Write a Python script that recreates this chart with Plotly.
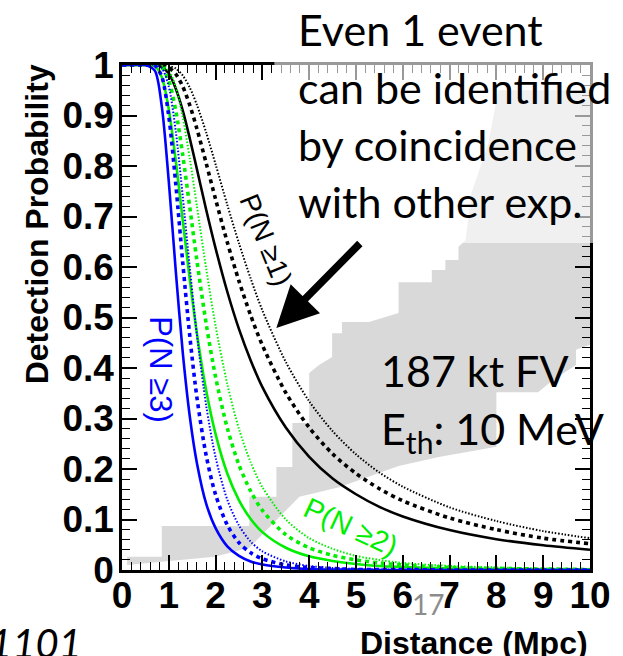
import plotly.graph_objects as go

# ---------------- data ----------------
distance_mpc = [0.0, 0.5, 0.7, 0.85, 1.0, 1.15, 1.3, 1.45, 1.6, 1.8, 2.0, 2.25, 2.5,
                2.75, 3.0, 3.5, 4.0, 4.5, 5.0, 5.5, 6.0, 7.0, 8.0, 9.0, 10.0]

# P(N >= 1)
p1_solid = [1, 1.000, 1.000, 0.996, 0.983, 0.953, 0.909, 0.854, 0.794, 0.713, 0.637, 0.551, 0.477,
            0.415, 0.362, 0.282, 0.224, 0.181, 0.150, 0.125, 0.106, 0.079, 0.061, 0.049, 0.040]
p1_dashed = [1, 1.000, 1.000, 0.999, 0.995, 0.982, 0.957, 0.920, 0.874, 0.805, 0.734, 0.649, 0.572,
             0.504, 0.445, 0.351, 0.282, 0.230, 0.191, 0.161, 0.137, 0.103, 0.080, 0.063, 0.052]
p1_dotted = [1, 1.000, 1.000, 1.000, 0.998, 0.993, 0.979, 0.955, 0.921, 0.866, 0.803, 0.723, 0.647,
             0.577, 0.514, 0.412, 0.334, 0.275, 0.229, 0.193, 0.165, 0.124, 0.097, 0.077, 0.063]

# P(N >= 2)
p2_solid = [1, 1.000, 0.998, 0.976, 0.912, 0.810, 0.691, 0.574, 0.469, 0.355, 0.269, 0.191, 0.138,
            0.101, 0.075, 0.044, 0.027, 0.018, 0.012, 0.008, 0.006, 0.003, 0.002, 0.001, 0.001]
p2_dashed = [1, 1.000, 1.000, 0.995, 0.969, 0.909, 0.820, 0.717, 0.613, 0.487, 0.382, 0.281, 0.208,
             0.156, 0.118, 0.070, 0.044, 0.029, 0.020, 0.014, 0.010, 0.005, 0.003, 0.002, 0.001]
p2_dotted = [1, 1.000, 1.000, 0.999, 0.989, 0.957, 0.896, 0.814, 0.721, 0.596, 0.483, 0.368, 0.279,
             0.213, 0.164, 0.100, 0.063, 0.042, 0.028, 0.020, 0.014, 0.008, 0.005, 0.003, 0.002]

# P(N >= 3)
p3_solid = [1, 1.000, 0.989, 0.918, 0.769, 0.591, 0.429, 0.303, 0.212, 0.131, 0.083, 0.047, 0.028,
            0.017, 0.011, 0.005, 0.002, 0.001, 0.001, 0.000, 0.000, 0.0, 0.0, 0.0, 0.0]
p3_dashed = [1, 1.000, 0.999, 0.977, 0.898, 0.763, 0.607, 0.462, 0.342, 0.226, 0.149, 0.089, 0.054,
             0.034, 0.022, 0.010, 0.005, 0.003, 0.001, 0.001, 0.001, 0.0, 0.0, 0.0, 0.0]
p3_dotted = [1, 1.000, 1.000, 0.994, 0.957, 0.868, 0.738, 0.597, 0.466, 0.325, 0.223, 0.139, 0.088,
             0.056, 0.037, 0.017, 0.008, 0.004, 0.002, 0.001, 0.001, 0.0, 0.0, 0.0, 0.0]

# grey band in the background (outline, distance / probability)
band_x = [0.11, 0.11, 0.85, 0.85, 2.72, 2.72, 3.30, 3.30, 3.64, 3.64, 4.00, 4.00, 4.21, 4.49,
          4.49, 4.70, 4.70, 5.28, 5.91, 5.91, 6.62, 6.62, 6.91, 6.91, 7.19, 7.19, 7.34, 7.47,
          7.83, 8.04, 10.0, 10.0, 9.70, 9.70, 9.21, 8.89, 8.00, 8.00, 6.77, 5.91, 4.64, 3.79,
          3.30, 2.72, 1.98, 0.91, 0.11]
band_y = [0.010, 0.026, 0.026, 0.087, 0.087, 0.145, 0.145, 0.204, 0.204, 0.291, 0.291, 0.390,
          0.406, 0.422, 0.469, 0.469, 0.491, 0.491, 0.509, 0.570, 0.570, 0.594, 0.594, 0.614,
          0.614, 0.640, 0.653, 0.747, 0.846, 0.950, 0.950, 0.446, 0.436, 0.406, 0.376, 0.352,
          0.352, 0.244, 0.224, 0.206, 0.164, 0.145, 0.099, 0.044, 0.026, 0.016, 0.010]

x_ticks = list(range(0, 11))
y_ticks = [0, 0.1, 0.2, 0.3, 0.4, 0.5, 0.6, 0.7, 0.8, 0.9, 1]

# ---------------- layout geometry (pixels) ----------------
W, H = 623, 656
L, R, T, B = 122, 592, 65, 570


def paper(xp, yp):
    """pixel position -> paper coordinates"""
    return (xp - L) / (R - L), (B - yp) / (B - T)


fig = go.Figure()

fig.add_trace(go.Scatter(x=band_x, y=band_y, fill="toself", fillcolor="#d9d9d9",
                         line=dict(width=0), mode="lines", hoverinfo="skip"))

styles = {
    "solid": dict(width=2.6, dash="solid"),
    "dashed": dict(width=3.6, dash="4px,4px"),
    "dotted": dict(width=2.0, dash="1.5px,1.8px"),
}
curves = [
    ("#000000", p1_solid, p1_dashed, p1_dotted),
    ("#00ee00", p2_solid, p2_dashed, p2_dotted),
    ("#0000ff", p3_solid, p3_dashed, p3_dotted),
]
for color, s, d, o in curves:
    for key, vals in (("dotted", o), ("dashed", d), ("solid", s)):
        st = styles[key]
        fig.add_trace(go.Scatter(
            x=distance_mpc, y=vals, mode="lines",
            line=dict(color=color, width=st["width"], dash=st["dash"], shape="spline", smoothing=0.8),
            hoverinfo="skip"))

helv = "Liberation Sans, Arial, sans-serif"
axis_font = dict(family=helv, size=37, color="black", weight="bold")

fig.update_xaxes(range=[0, 10], tickvals=x_ticks, ticks="inside", ticklen=15, tickwidth=1.5,
                 tickcolor="black", showline=True, linecolor="black", linewidth=2.5,
                 mirror="ticks", showgrid=False, zeroline=False, tickfont=axis_font,
                 ticklabelstandoff=-9,
                 minor=dict(dtick=0.2, ticks="inside", ticklen=8, tickwidth=1, tickcolor="black"))
fig.update_yaxes(range=[0, 1], tickvals=y_ticks, ticks="inside", ticklen=15, tickwidth=1.5,
                 tickcolor="black", showline=True, linecolor="black", linewidth=2.5,
                 mirror="ticks", showgrid=False, zeroline=False, tickfont=axis_font,
                 ticklabelstandoff=-2,
                 minor=dict(dtick=0.02, ticks="inside", ticklen=8, tickwidth=1, tickcolor="black"))

# translucent white panel behind the comment text
x0, y0 = paper(275, 243)
x1, y1 = paper(630, -10)
fig.add_shape(type="rect", xref="paper", yref="paper", x0=x0, y0=y0, x1=x1, y1=y1,
              fillcolor="white", opacity=0.6, line=dict(width=0), layer="above")

ann = []


def text(xp, yp, s, size, color="black", family="Lato", xanchor="left", angle=0, **kw):
    x, y = paper(xp, yp)
    ann.append(dict(x=x, y=y, xref="paper", yref="paper", text=s, showarrow=False,
                    xanchor=xanchor, yanchor="middle", textangle=angle,
                    font=dict(family=family, size=size, color=color), **kw))


# comment text
for i, line in enumerate(["Even 1 event", "can be identified", "by coincidence", "with other exp."]):
    text(297, 30 + 57.3 * i, line, 43)
text(380, 370, "187 kt FV", 43)
text(380, 431, "E<sub>th</sub>: 10 MeV", 43)

# curve labels
text(267, 240, "P(N ≥1)", 28, xanchor="center", angle=68, family=helv)
text(161, 370, "P(N ≥3)", 31, color="#0000ff", xanchor="center", angle=90, family=helv)
text(352, 527, "P(N ≥2)", 29, color="#00ee00", xanchor="center", angle=25, family=helv)

# axis titles
title_font = dict(family=helv, size=32, color="black", weight="bold")
xt, yt = paper(592, 643)
ann.append(dict(x=xt, y=yt, xref="paper", yref="paper", text="Distance (Mpc)", showarrow=False,
                xanchor="right", yanchor="middle", font=title_font))
xt, yt = paper(37, 62)
ann.append(dict(x=xt, y=yt, xref="paper", yref="paper", text="Detection Probability",
                showarrow=False, xanchor="center", yanchor="top", textangle=-90, font=title_font))

# page number and reference fragment
text(429, 604, "17", 28, color="#8c8c8c", xanchor="center")
text(84, 643, "<i>1101</i>", 40, xanchor="right")

# arrow pointing at the N>=1 curves
xa, ya = paper(277, 328)
ann.append(dict(x=xa, y=ya, xref="paper", yref="paper", text="", showarrow=True,
                ax=85, ay=-86, arrowhead=2, arrowsize=1.1, arrowwidth=7.5, arrowcolor="black",
                standoff=0))

fig.update_layout(
    width=W, height=H, margin=dict(l=L, r=W - R, t=T, b=H - B),
    plot_bgcolor="white", paper_bgcolor="white", showlegend=False,
    annotations=ann,
)

fig.write_html("out.html")
